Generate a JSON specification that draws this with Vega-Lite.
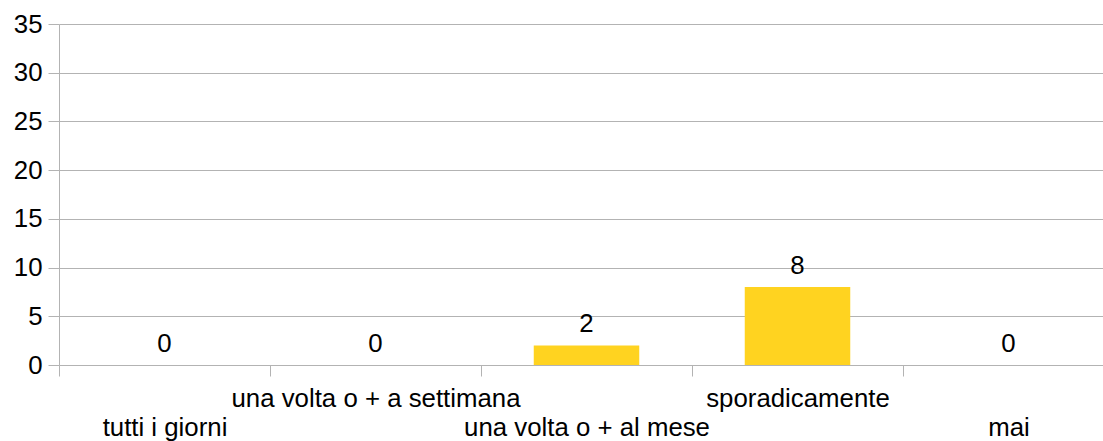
{
  "$schema": "https://vega.github.io/schema/vega-lite/v6.json",
  "width": 1044,
  "height": 341,
  "autosize": {"type": "none"},
  "padding": {"left": 59, "top": 24, "right": 0, "bottom": 76},
  "background": "white",
  "config": {"view": {"stroke": null}, "font": "Liberation Sans"},
  "data": {
    "values": [
      {"cat": "tutti i giorni", "n": 0},
      {"cat": "una volta o + a settimana", "n": 0},
      {"cat": "una volta o + al mese", "n": 2},
      {"cat": "sporadicamente", "n": 8},
      {"cat": "mai", "n": 0}
    ]
  },
  "encoding": {
    "x": {
      "field": "cat",
      "type": "nominal",
      "sort": null,
      "scale": {"range": [0, 1055], "paddingInner": 0, "paddingOuter": 0},
      "axis": {
        "title": null,
        "labelAngle": 0,
        "tickBand": "extent",
        "tickSize": 11,
        "tickColor": "#b3b3b3",
        "domain": false,
        "grid": false,
        "labelFontSize": 25.8,
        "labelColor": "black",
        "labelBaseline": "alphabetic",
        "labelLimit": 0,
        "labelOverlap": false,
        "labelBound": false,
        "labelFlush": false,
        "labelPadding": {
          "condition": {"test": "indexof(['tutti i giorni','una volta o + al mese','mai'], datum.value) >= 0", "value": 59},
          "value": 30
        }
      }
    },
    "y": {
      "field": "n",
      "type": "quantitative",
      "scale": {"domain": [0, 35]},
      "axis": {
        "title": null,
        "values": [0, 5, 10, 15, 20, 25, 30, 35],
        "tickSize": 11,
        "tickColor": "#b3b3b3",
        "domainColor": "#b3b3b3",
        "gridColor": "#b3b3b3",
        "grid": true,
        "labelFontSize": 25.8,
        "labelColor": "black",
        "labelPadding": 6
      }
    }
  },
  "layer": [
    {"mark": {"type": "bar", "color": "#ffd320", "width": {"band": 0.5}}},
    {
      "mark": {"type": "text", "dy": -13.5, "baseline": "alphabetic", "fontSize": 25.8, "color": "black"},
      "encoding": {"text": {"field": "n", "type": "quantitative"}}
    }
  ]
}
